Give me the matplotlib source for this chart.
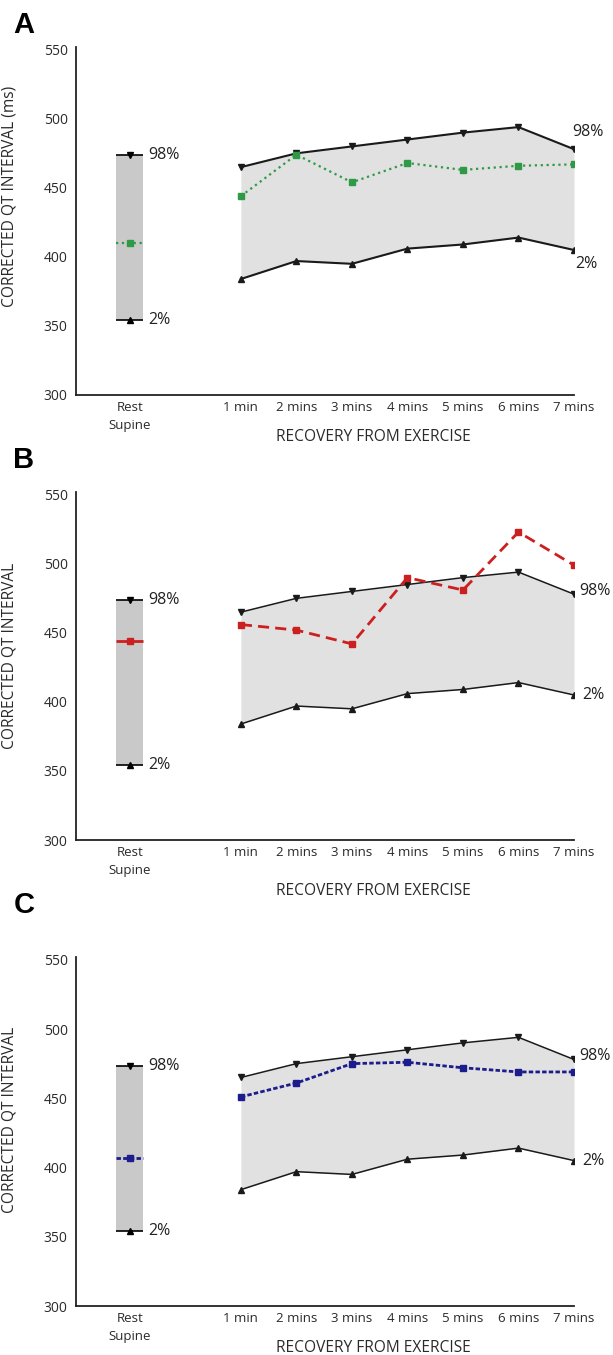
import numpy as np
import matplotlib
matplotlib.use('Agg')
import matplotlib.pyplot as plt

plt.rcParams['font.family'] = ['Open Sans', 'DejaVu Sans']

# data
minutes = ['1 min', '2 mins', '3 mins', '4 mins', '5 mins', '6 mins', '7 mins']
rest_label = 'Rest\nSupine'

upper98 = [465, 475, 480, 485, 490, 494, 478]
lower2 = [384, 397, 395, 406, 409, 414, 405]
rest_hi = 473.5
rest_lo = 354

green_rest = 410
green_vals = [444, 474, 454, 468, 463, 466, 467]
red_rest = 444
red_vals = [456, 452, 442, 490, 481, 523, 499]
blue_rest = 407
blue_vals = [451, 461, 475, 476, 472, 469, 469]

yticks = [300, 350, 400, 450, 500, 550]

W, H = 613, 1355
fig = plt.figure(figsize=(W / 100, H / 100), dpi=100)

x_ex = np.arange(1, len(minutes) + 1)
x_rest = -1
bar_w = 0.49

panels = [
    dict(letter='A', top=47, bottom=395, rest=green_rest, vals=green_vals,
         color='#2e9a45', ls=':', lw=1.6, ms=4, bandlw=1.5,
         ylabel='CORRECTED QT INTERVAL (ms)', ylab_y=0.572, xlab_off=42,
         letter_y=25, right_style='A'),
    dict(letter='B', top=492, bottom=840, rest=red_rest, vals=red_vals,
         color='#cc2020', ls=(0, (4, 2.2)), lw=2.0, ms=5, bandlw=1.1,
         ylabel='CORRECTED QT INTERVAL', ylab_y=0.53, xlab_off=51,
         letter_y=460, right_style='B'),
    dict(letter='C', top=957, bottom=1306, rest=blue_rest, vals=blue_vals,
         color='#1c1c8c', ls=(0, (1.6, 0.8)), lw=2.0, ms=5, bandlw=1.1,
         ylabel='CORRECTED QT INTERVAL', ylab_y=0.533, xlab_off=42,
         letter_y=905, right_style='C'),
]

left_px, right_px = 76, 574

for p in panels:
    ax = fig.add_axes([left_px / W, 1 - p['bottom'] / H,
                       (right_px - left_px) / W, (p['bottom'] - p['top']) / H])
    ax.set_xlim(-1.97, 7)
    ax.set_ylim(300, 552)

    # rest supine bar
    ax.bar(x_rest, rest_hi - rest_lo, bottom=rest_lo, width=bar_w,
           color='#c9c9c9', zorder=1)
    ax.hlines([rest_hi, rest_lo], x_rest - bar_w / 2, x_rest + bar_w / 2,
              color='black', lw=1.2, zorder=2)
    ax.plot([x_rest], [rest_hi], marker='v', color='black', ms=5, zorder=3)
    ax.plot([x_rest], [rest_lo], marker='^', color='black', ms=5, zorder=3)
    ax.plot([x_rest - bar_w / 2, x_rest + bar_w / 2], [p['rest'], p['rest']],
            color=p['color'], ls=p['ls'], lw=p['lw'], zorder=3)
    ax.plot([x_rest], [p['rest']], marker='s', color=p['color'], ms=p['ms'],
            zorder=4)
    ax.annotate('98%', (x_rest + bar_w / 2, rest_hi), xytext=(5, 0),
                textcoords='offset pixels', va='center', ha='left', fontsize=11.5,
                color='#222222')
    ax.annotate('2%', (x_rest + bar_w / 2, rest_lo), xytext=(5, 0),
                textcoords='offset pixels', va='center', ha='left', fontsize=11.5,
                color='#222222')

    # recovery band
    ax.fill_between(x_ex, lower2, upper98, color='#e1e1e1', lw=0, zorder=1)
    ax.plot(x_ex, upper98, color='#1a1a1a', lw=p['bandlw'], marker='v', ms=5,
            zorder=3)
    ax.plot(x_ex, lower2, color='#1a1a1a', lw=p['bandlw'], marker='^', ms=5,
            zorder=3)
    ax.plot(x_ex, p['vals'], color=p['color'], ls=p['ls'], lw=p['lw'],
            marker='s', ms=p['ms'], zorder=4)

    if p['right_style'] == 'A':
        ax.annotate('98%', (x_ex[-1], upper98[-1]), xytext=(14, 17),
                    textcoords='offset pixels', va='center', ha='center',
                    fontsize=11.5, color='#222222')
        ax.annotate('2%', (x_ex[-1], lower2[-1]), xytext=(12, -14),
                    textcoords='offset pixels', va='center', ha='center',
                    fontsize=11.5, color='#222222')
    else:
        ax.annotate('98%', (x_ex[-1], upper98[-1]), xytext=(5, 3),
                    textcoords='offset pixels', va='center', ha='left',
                    fontsize=11.5, color='#222222', annotation_clip=False)
        ax.annotate('2%', (x_ex[-1], lower2[-1]), xytext=(8, 0),
                    textcoords='offset pixels', va='center', ha='left',
                    fontsize=11.5, color='#222222', annotation_clip=False)

    # axes styling
    for s in ['top', 'right']:
        ax.spines[s].set_visible(False)
    for s in ['left', 'bottom']:
        ax.spines[s].set_linewidth(1.3)
        ax.spines[s].set_color('#222222')
    ax.set_yticks(yticks)
    ax.set_yticklabels([str(v) for v in yticks], fontsize=10, color='#2a2a2a')
    ax.set_xticks([x_rest] + list(x_ex))
    ax.set_xticklabels([rest_label] + minutes, fontsize=9.5, color='#2a2a2a',
                       linespacing=1.5)
    ax.tick_params(length=0, pad=6)
    ax.tick_params(axis='x', pad=4)
    ax.set_ylabel(p['ylabel'], fontsize=11.2, color='#2a2a2a')
    ax.yaxis.set_label_coords(-0.118, p['ylab_y'])

    fig.text(373 / W, 1 - (p['bottom'] + p['xlab_off']) / H,
             'RECOVERY FROM EXERCISE', ha='center', va='center',
             fontsize=11.2, color='#2a2a2a')
    fig.text(24 / W, 1 - p['letter_y'] / H, p['letter'], ha='center',
             va='center', fontsize=21, fontweight='bold',
             family='Liberation Sans')

fig.savefig('out.png', dpi=100, facecolor='white')
